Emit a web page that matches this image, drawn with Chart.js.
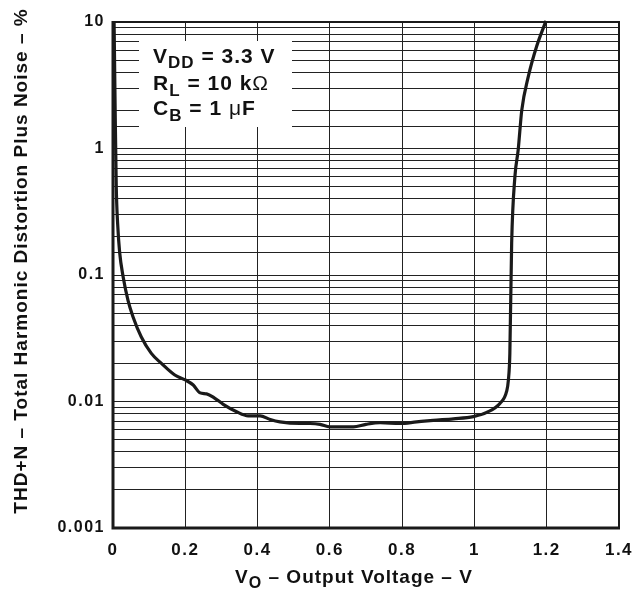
<!DOCTYPE html>
<html>
<head>
<meta charset="utf-8">
<script src="https://cdn.jsdelivr.net/npm/chart.js@4"></script>
<style>
html,body{margin:0;padding:0;background:#fff;}
#wrap{width:639px;height:589px;}
</style>
</head>
<body>
<div id="wrap"><canvas id="c" width="639" height="589"></canvas></div>
<script>
// output voltage (V) and THD+N (%)
const voltage = [0.003,0.006,0.009,0.013,0.0185,0.028,0.0415,0.055,0.078,0.106,0.134,0.171,0.2,0.222,0.241,0.259,0.282,0.305,0.342,0.374,0.407,0.435,0.462,0.517,0.545,0.573,0.6,0.665,0.7,0.739,0.794,0.84,0.886,0.942,0.997,1.034,1.071,1.089,1.094,1.098,1.103,1.112,1.121,1.131,1.149,1.172,1.198];
const thd = [10,2,0.5,0.25,0.15,0.097,0.063,0.047,0.0325,0.024,0.02,0.0162,0.0148,0.0135,0.0117,0.0115,0.0106,0.0095,0.0083,0.0077,0.0077,0.0072,0.0069,0.0067,0.0067,0.0066,0.0063,0.0063,0.0066,0.0068,0.0067,0.0069,0.0071,0.0073,0.0076,0.0082,0.0097,0.012,0.0148,0.024,0.178,0.6,0.97,2.01,3.7,6.4,10.2];

const xTicks = [0,0.2,0.4,0.6,0.8,1,1.2,1.4];
const yMajor = [0.001,0.01,0.1,1,10];

const FONT = "Liberation Sans, Arial, sans-serif";

// wider letter spacing like the original print
const spacing = {
  id:"spacing",
  beforeInit(chart){ chart.ctx.letterSpacing = "1.5px"; },
  beforeDraw(chart){ chart.ctx.letterSpacing = "1.5px"; }
};

const decor = {
  id:"decor",
  afterDraw(chart){
    const ctx = chart.ctx;
    const a = chart.chartArea;
    ctx.save();
    // frame
    ctx.strokeStyle = "#1a1a1a";
    ctx.lineWidth = 2;
    ctx.strokeRect(a.left, a.top, a.right-a.left, a.bottom-a.top);
    ctx.lineWidth = 3;
    ctx.beginPath();
    ctx.moveTo(a.left, a.top-1);
    ctx.lineTo(a.left, a.bottom);
    ctx.lineTo(a.right+1, a.bottom);
    ctx.stroke();

    // legend box
    ctx.fillStyle = "#fff";
    ctx.fillRect(139, 41, 153, 86);
    ctx.fillStyle = "#111";
    ctx.textBaseline = "alphabetic";
    ctx.textAlign = "left";
    ctx.letterSpacing = "1px";
    function part(txt, x, y, size, weight){
      ctx.font = weight+" "+size+"px "+FONT;
      ctx.fillText(txt, x, y);
      return x + ctx.measureText(txt).width;
    }
    let x = part("V",153,63,21,"bold");
    x = part("DD",x,68,17,"bold");
    part(" = 3.3 V",x,63,21,"bold");
    x = part("R",153,90,21,"bold");
    x = part("L",x,96,17,"bold");
    x = part(" = 10 k",x,90,21,"bold");
    part("Ω",x,90,21,"normal");
    x = part("C",153,115,21,"bold");
    x = part("B",x,121,17,"bold");
    x = part(" = 1 ",x,115,21,"bold");
    x = part("μ",x,115,21,"normal");
    part("F",x,115,21,"bold");

    // x title
    const t1 = "V", t2 = "O", t3 = " – Output Voltage – V";
    ctx.font = "bold 19px "+FONT;
    const w1 = ctx.measureText(t1).width, w3 = ctx.measureText(t3).width;
    ctx.font = "bold 16px "+FONT;
    const w2 = ctx.measureText(t2).width;
    let xs = 354 - (w1+w2+w3)/2;
    xs = part(t1, xs, 583, 19, "bold");
    xs = part(t2, xs, 588, 16, "bold");
    part(t3, xs, 583, 19, "bold");

    // y title
    ctx.translate(27, 261);
    ctx.rotate(-Math.PI/2);
    ctx.textAlign = "center";
    ctx.font = "bold 19px "+FONT;
    ctx.fillText("THD+N – Total Harmonic Distortion Plus Noise – %", 0, 0);
    ctx.restore();
  }
};

new Chart(document.getElementById("c"),{
  type:"line",
  data:{
    datasets:[{
      data: voltage.map((v,i)=>({x:v, y:thd[i]})),
      borderColor:"#1a1a1a",
      borderWidth:3.2,
      pointRadius:0,
      tension:0.3,
      cubicInterpolationMode:"monotone",
      clip:2
    }]
  },
  options:{
    responsive:false,
    animation:false,
    layout:{padding:{top:22,right:20,left:0,bottom:0}},
    plugins:{legend:{display:false},tooltip:{enabled:false}},
    scales:{
      x:{
        type:"linear",
        min:0, max:1.4,
        afterBuildTicks(s){ s.ticks = xTicks.map(v=>({value:v})); },
        afterFit(s){ s.height = 61; s.paddingLeft = 0; s.paddingRight = 0; },
        border:{display:false},
        grid:{color:"#222",lineWidth:1,drawTicks:false},
        ticks:{
          padding:12,
          color:"#111",
          font:{family:FONT,size:17,weight:"bold"},
          callback:v=>String(Number(v.toFixed(1)))
        }
      },
      y:{
        type:"logarithmic",
        min:0.001, max:10,
        afterFit(s){ s.width = 113; s.paddingTop = 0; s.paddingBottom = 0; },
        border:{display:false},
        grid:{color:"#222",lineWidth:1,drawTicks:false},
        ticks:{
          padding:8,
          color:"#111",
          autoSkip:false,
          font:{family:FONT,size:16,weight:"bold"},
          callback:v=>{
            const m = yMajor.find(t=>Math.abs(t-v)/t<1e-6);
            return m===undefined ? "" : String(m);
          }
        }
      }
    }
  },
  plugins:[spacing, decor]
});
</script>
</body>
</html>
